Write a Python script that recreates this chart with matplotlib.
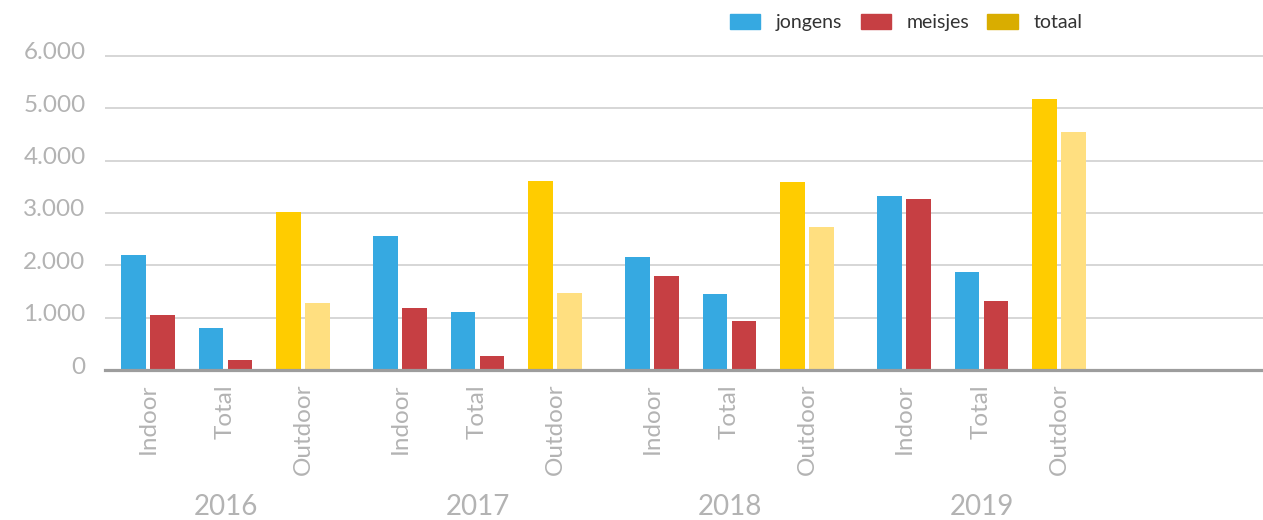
import matplotlib
matplotlib.use("Agg")
import matplotlib.pyplot as plt
from matplotlib.patches import Patch
from matplotlib.transforms import ScaledTranslation
import numpy as np

# data
years = ['2016', '2017', '2018', '2019']
categories = ['Indoor', 'Total', 'Outdoor']

jongens_indoor = [2200, 2560, 2160, 3330]
meisjes_indoor = [1050, 1185, 1800, 3270]
jongens_total = [810, 1110, 1450, 1875]
meisjes_total = [190, 270, 940, 1320]
outdoor_1 = [3020, 3610, 3595, 5180]
outdoor_2 = [1280, 1470, 2735, 4550]

legend_labels = ['jongens', 'meisjes', 'totaal']
yticks = [0, 1000, 2000, 3000, 4000, 5000, 6000]

blue = '#36a9e1'
red = '#c63f43'
gold = '#ffcc00'
light_gold = '#ffdf80'
legend_gold = '#d9ad00'
grey_text = '#b3b3b3'

plt.rcParams['font.family'] = ['Lato', 'DejaVu Sans']

fig = plt.figure(figsize=(12.63, 5.2), dpi=100)
ax = fig.add_axes([105 / 1263, 150 / 520, 1158 / 1263, 322 / 520])

year_step = 3.25
bw = 0.315
off = 0.187

xpos = []
for yi in range(len(years)):
    base = yi * year_step
    xi, xt, xo = base, base + 1, base + 2
    ax.bar(xi - off, jongens_indoor[yi], bw, color=blue, zorder=3)
    ax.bar(xi + off, meisjes_indoor[yi], bw, color=red, zorder=3)
    ax.bar(xt - off, jongens_total[yi], bw, color=blue, zorder=3)
    ax.bar(xt + off, meisjes_total[yi], bw, color=red, zorder=3)
    ax.bar(xo - off, outdoor_1[yi], bw, color=gold, zorder=3)
    ax.bar(xo + off, outdoor_2[yi], bw, color=light_gold, zorder=3)
    xpos += [xi, xt, xo]
    ax.text(xt, -0.425, years[yi], transform=ax.get_xaxis_transform(),
            ha='center', va='center', fontsize=20, color=grey_text)

ax.set_xlim(-0.555, 14.38)
ax.set_ylim(0, 6150)

ax.set_xticks(xpos)
ax.set_xticklabels(categories * len(years), rotation=90, fontsize=17.5, color=grey_text)
ax.set_yticks(yticks)
ax.set_yticklabels([f'{v:,}'.replace(',', '.') for v in yticks], fontsize=17.5, color=grey_text)
ax.tick_params(axis='both', length=0)
ax.tick_params(axis='y', pad=14)
ax.tick_params(axis='x', pad=10)
for lab in ax.get_yticklabels():
    lab.set_transform(lab.get_transform() + ScaledTranslation(0, 5 / 100, fig.dpi_scale_trans))

ax.grid(axis='y', color='#d0d0d0', linewidth=1.2, zorder=0)
for s in ['top', 'right', 'left']:
    ax.spines[s].set_visible(False)
ax.spines['bottom'].set_color('#9d9d9d')
ax.spines['bottom'].set_linewidth(2.3)
ax.spines['bottom'].set_zorder(4)

handles = [Patch(color=c) for c in (blue, red, legend_gold)]
fig.legend(handles, legend_labels, loc='center left', bbox_to_anchor=(730 / 1263, 0.956),
           ncol=3, frameon=False, fontsize=14, handlelength=1.55, handleheight=0.77,
           handletextpad=0.8, columnspacing=0.95, borderpad=0, borderaxespad=0,
           labelcolor='#333333')

fig.savefig('out.png', dpi=100)
